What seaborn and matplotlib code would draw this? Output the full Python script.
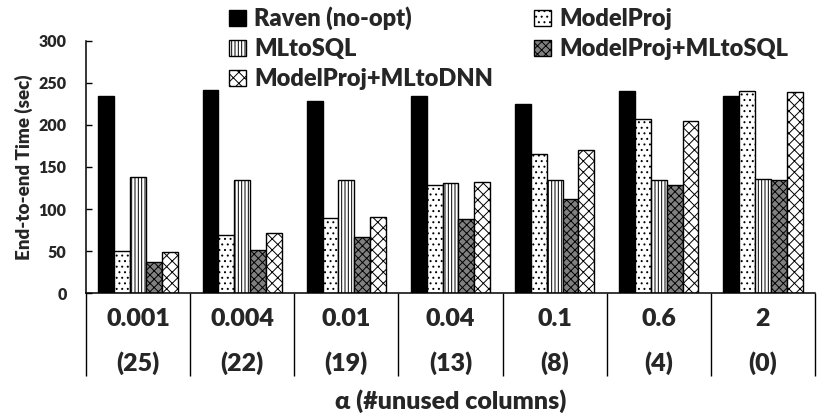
import numpy as np
import pandas as pd
import matplotlib
matplotlib.use("Agg")
import matplotlib.pyplot as plt
import seaborn as sns

# -------------------------------
# DATA
# -------------------------------
alphas = ["0.001", "0.004", "0.01", "0.04", "0.1", "0.6", "2"]
unused_cols = ["(25)", "(22)", "(19)", "(13)", "(8)", "(4)", "(0)"]
methods = ["Raven (no-opt)", "ModelProj", "MLtoSQL", "ModelProj+MLtoSQL", "ModelProj+MLtoDNN"]

raven = [234, 242, 229, 235, 225, 241, 235]
model_proj = [50, 69, 89, 129, 166, 207, 240]
ml_to_sql = [138, 134, 135, 131, 135, 134, 136]
mp_ml_to_sql = [37, 51, 67, 88, 112, 128, 134]
mp_ml_to_dnn = [49, 71, 90, 132, 170, 205, 239]

series = [raven, model_proj, ml_to_sql, mp_ml_to_sql, mp_ml_to_dnn]
colors = ["black", "white", "white", "#808080", "white"]
hatches = ["", "...", "|||||", "xxxx", "xxx"]

df = pd.DataFrame({
    "alpha": np.tile(alphas, len(methods)),
    "method": np.repeat(methods, len(alphas)),
    "time": np.concatenate(series),
})

# -------------------------------
# STYLE
# -------------------------------
sns.set_style("white")
plt.rcParams["font.family"] = ["Lato", "DejaVu Sans"]
plt.rcParams["font.weight"] = "heavy"
plt.rcParams["hatch.linewidth"] = 0.7
plt.rcParams["hatch.color"] = "black"
W = "heavy"

fig, ax = plt.subplots(figsize=(8.3, 4.18), dpi=100)
fig.subplots_adjust(left=0.1036, right=0.982, bottom=0.299, top=0.902)

sns.barplot(data=df, x="alpha", y="time", hue="method", order=alphas,
            hue_order=methods, palette=dict(zip(methods, colors)),
            width=0.76, edgecolor="black", linewidth=1.0, saturation=1,
            legend=False, ax=ax)

for cont, h in zip(ax.containers, hatches):
    for bar in cont:
        bar.set_hatch(h)

# -------------------------------
# AXES
# -------------------------------
ax.set_ylim(0, 300)
ax.set_xlim(-0.5, len(alphas) - 0.5)
ax.set_yticks(range(0, 301, 50))
ax.tick_params(axis="y", left=True, direction="in", length=4, width=1,
               color="black", labelsize=11.5, pad=14)
for lab in ax.get_yticklabels():
    lab.set_fontweight(W)

ax.set_xticks(range(len(alphas)))
ax.set_xticklabels([f"{a}\n{u}" for a, u in zip(alphas, unused_cols)],
                   fontsize=18, fontweight=W, linespacing=2.1)
ax.set_xticks(np.arange(-0.5, len(alphas)), minor=True)
ax.tick_params(axis="x", which="major", bottom=False, pad=7)
ax.tick_params(axis="x", which="minor", bottom=True, length=60, width=1,
               direction="out", color="black")

ax.set_xlabel("α (#unused columns)", fontsize=18, fontweight=W, labelpad=6)
ax.set_ylabel("End-to-end Time (sec)", fontsize=13.5, fontweight=W, labelpad=4)

sns.despine(ax=ax)
for side in ["left", "bottom"]:
    ax.spines[side].set_color("black")
    ax.spines[side].set_linewidth(1.1)

# legend: column-major order, two columns
order = [0, 2, 4, 1, 3]
fig.legend([ax.containers[i] for i in order], [methods[i] for i in order],
           loc="upper left", bbox_to_anchor=(0.262, 1.012), ncol=2,
           frameon=False, prop={"size": 17, "weight": W},
           handlelength=0.7, handleheight=0.7, handletextpad=0.35,
           columnspacing=1.75, labelspacing=0.33, borderaxespad=0.1)

plt.savefig("out.png", dpi=100)
plt.close()
